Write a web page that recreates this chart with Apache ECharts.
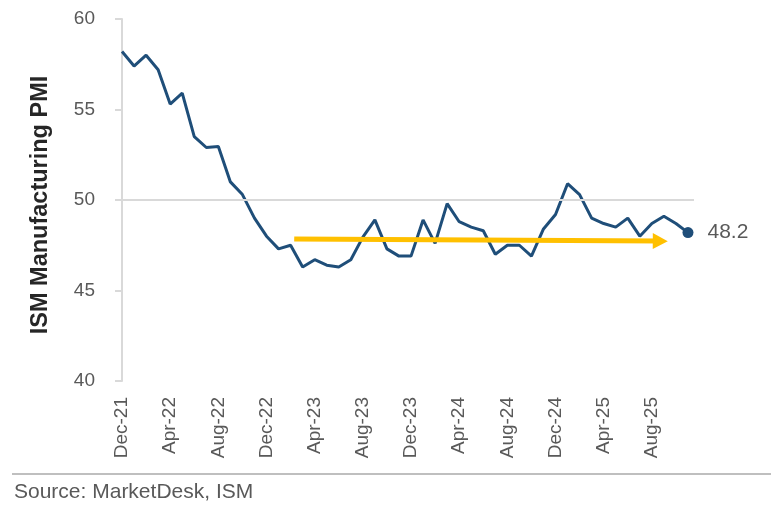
<!DOCTYPE html>
<html>
<head>
<meta charset="utf-8">
<script src="https://cdn.jsdelivr.net/npm/echarts@6/dist/echarts.min.js"></script>
<style>
  html, body { margin: 0; padding: 0; background: #fff; }
  #chart { width: 771px; height: 514px; }
</style>
</head>
<body>
<div id="chart"></div>
<script>
// monthly ISM manufacturing PMI, Dec-21 .. Nov-25
var months = [
  'Dec-21','Jan-22','Feb-22','Mar-22','Apr-22','May-22','Jun-22','Jul-22','Aug-22','Sep-22','Oct-22','Nov-22',
  'Dec-22','Jan-23','Feb-23','Mar-23','Apr-23','May-23','Jun-23','Jul-23','Aug-23','Sep-23','Oct-23','Nov-23',
  'Dec-23','Jan-24','Feb-24','Mar-24','Apr-24','May-24','Jun-24','Jul-24','Aug-24','Sep-24','Oct-24','Nov-24',
  'Dec-24','Jan-25','Feb-25','Mar-25','Apr-25','May-25','Jun-25','Jul-25','Aug-25','Sep-25','Oct-25','Nov-25'
];
var pmi = [
  58.2, 57.4, 58.0, 57.2, 55.3, 55.9, 53.5, 52.9, 52.95, 51.0, 50.3, 49.0,
  48.0, 47.3, 47.5, 46.3, 46.7, 46.4, 46.3, 46.7, 47.95, 48.9, 47.3, 46.9,
  46.9, 48.9, 47.6, 49.8, 48.8, 48.5, 48.3, 47.0, 47.5, 47.5, 46.9, 48.4,
  49.2, 50.9, 50.3, 49.0, 48.7, 48.5, 49.0, 48.0, 48.7, 49.1, 48.7, 48.2
];
var yTicks = [40, 45, 50, 55, 60];
// trend arrow: [month position, level] at start and end
var trendStart = [14.3, 47.85];
var trendEnd = [44.7, 47.73];

var grey = '#595959';
var font = 'Liberation Sans, Arial, sans-serif';

var chart = echarts.init(document.getElementById('chart'));

var lineData = pmi.map(function (v, i) {
  if (i < pmi.length - 1) return v;
  return {
    value: v,
    symbol: 'circle',
    symbolSize: 11,
    label: {
      show: true,
      position: 'right',
      distance: 14,
      color: grey,
      fontSize: 21,
      fontFamily: font,
      formatter: function (p) { return p.value.toFixed(1); }
    }
  };
});

chart.setOption({
  animation: false,
  backgroundColor: '#fff',
  grid: { left: 116, right: 77, top: 19, bottom: 133 },
  xAxis: [{
    type: 'category',
    data: months,
    boundaryGap: true,
    axisLine: { show: false },
    axisTick: { show: false },
    axisLabel: {
      interval: 3,
      rotate: 90,
      margin: 16,
      color: grey,
      fontSize: 19,
      fontFamily: font
    },
    splitLine: { show: false }
  }, {
    type: 'value',
    min: -0.5,
    max: months.length - 0.5,
    show: false
  }],
  yAxis: {
    type: 'value',
    min: yTicks[0],
    max: yTicks[yTicks.length - 1],
    interval: 5,
    name: 'ISM Manufacturing PMI',
    nameLocation: 'middle',
    nameRotate: 90,
    nameGap: 63,
    nameTextStyle: {
      fontSize: 23.5, fontWeight: 'bold', color: '#262626', fontFamily: font,
      padding: [0, 10, 0, 0]
    },
    axisLine: { show: true, lineStyle: { color: '#D9D9D9', width: 2 } },
    axisTick: { show: true, length: 7, lineStyle: { color: '#D9D9D9', width: 2 } },
    axisLabel: { margin: 21, color: grey, fontSize: 19, fontFamily: font },
    splitLine: { show: false }
  },
  series: [{
    type: 'line',
    data: lineData,
    symbol: 'none',
    showSymbol: true,
    itemStyle: { color: '#1F4E79' },
    lineStyle: { color: '#1F4E79', width: 3 },
    z: 3,
    markLine: {
      silent: true,
      symbol: 'none',
      label: { show: false },
      lineStyle: { color: '#D9D9D9', width: 2, type: 'solid' },
      data: [{ yAxis: 50 }]
    }
  }, {
    type: 'line',
    xAxisIndex: 1,
    data: [],
    z: 5,
    markLine: {
      silent: true,
      symbol: ['none', 'triangle'],
      symbolSize: [16, 15],
      label: { show: false },
      lineStyle: { color: '#FFC000', width: 5, type: 'solid' },
      itemStyle: { color: '#FFC000' },
      data: [[{ coord: trendStart }, { coord: trendEnd }]]
    }
  }],
  graphic: [{
    type: 'line',
    shape: { x1: 12, y1: 474, x2: 771, y2: 474 },
    style: { stroke: '#BFBFBF', lineWidth: 2 }
  }, {
    type: 'text',
    left: 14,
    top: 482,
    style: { text: 'Source: MarketDesk, ISM', fill: grey, fontSize: 21, fontFamily: font }
  }]
});
</script>
</body>
</html>
